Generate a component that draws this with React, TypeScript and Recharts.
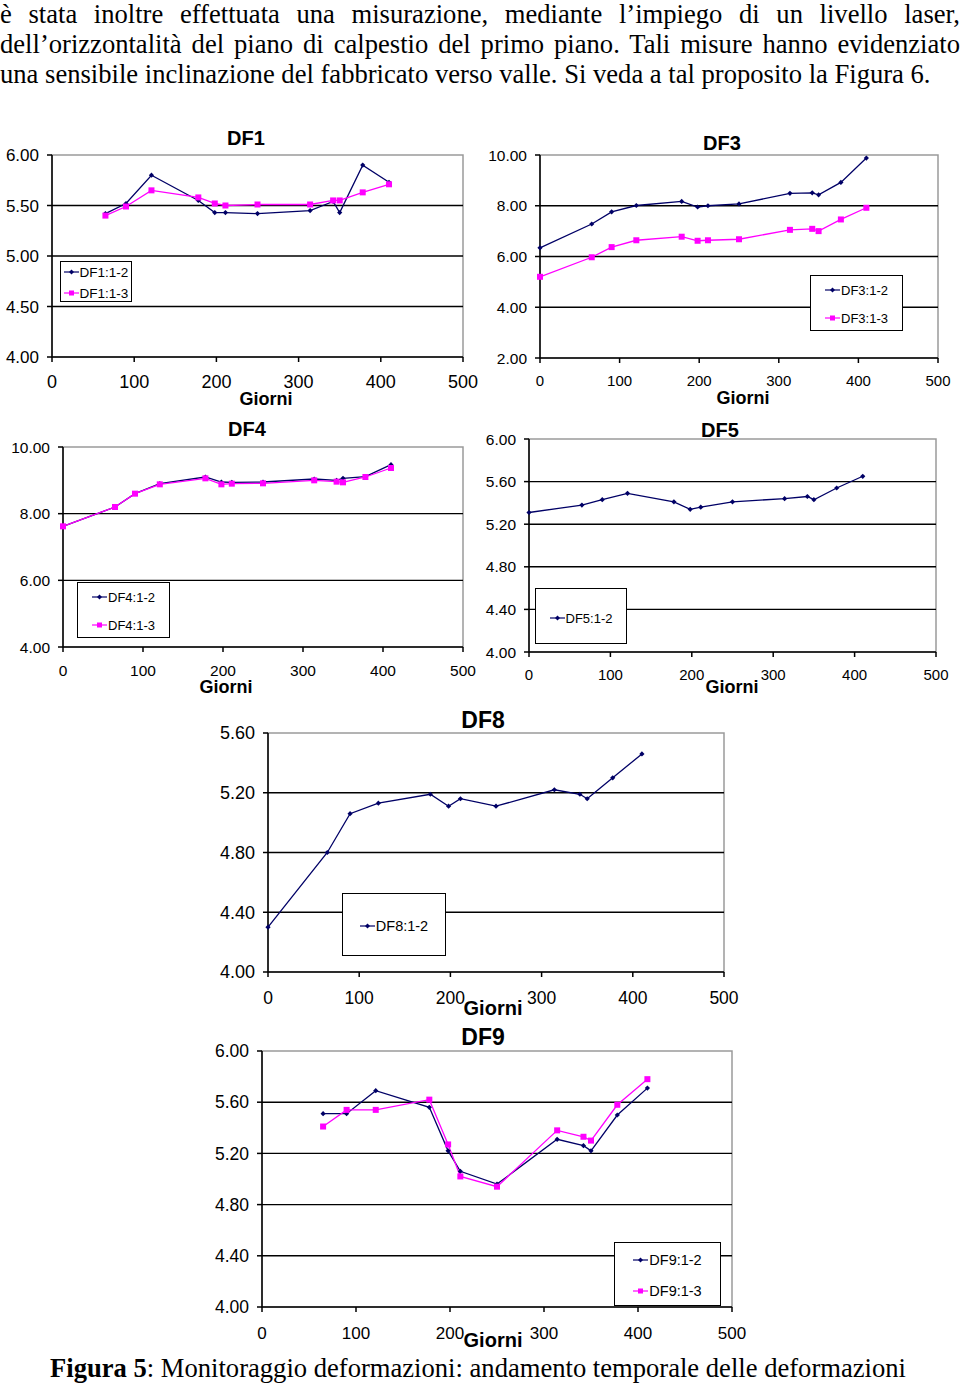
import React from "react";
import {
  LineChart,
  Line,
  XAxis,
  YAxis,
  ReferenceArea,
  ReferenceLine,
} from "recharts";

// Giorni di misura (comuni a tutte le fessure)
const DAYS = [0, 65, 90, 121, 178, 198, 211, 250, 314, 342, 350, 378, 410];
const X_TICKS = [0, 100, 200, 300, 400, 500];

const DF1_12 = [null, 5.42, 5.52, 5.8, 5.55, 5.43, 5.43, 5.42, 5.45, 5.54, 5.43, 5.9, 5.73];
const DF1_13 = [null, 5.4, 5.49, 5.65, 5.58, 5.52, 5.5, 5.51, 5.51, 5.55, 5.55, 5.63, 5.71];

const DF3_12 = [6.34, 7.28, 7.76, 8.01, 8.17, 7.95, 8.0, 8.07, 8.49, 8.51, 8.43, 8.92, 9.88];
const DF3_13 = [5.2, 5.97, 6.37, 6.64, 6.78, 6.62, 6.64, 6.68, 7.05, 7.09, 7.0, 7.46, 7.92];

const DF4_12 = [7.62, 8.2, 8.6, 8.9, 9.1, 8.95, 8.94, 8.95, 9.04, 9.0, 9.06, 9.11, 9.47];
const DF4_13 = [7.62, 8.2, 8.6, 8.88, 9.06, 8.88, 8.9, 8.91, 9.0, 8.96, 8.94, 9.1, 9.37];

const DF5_12 = [5.31, 5.38, 5.43, 5.49, 5.41, 5.34, 5.36, 5.41, 5.44, 5.46, 5.43, 5.54, 5.65];

const DF8_12 = [4.3, 4.8, 5.06, 5.13, 5.19, 5.11, 5.16, 5.11, 5.22, 5.19, 5.16, 5.3, 5.46];

const DF9_12 = [null, 5.51, 5.51, 5.69, 5.56, 5.22, 5.06, 4.96, 5.31, 5.26, 5.22, 5.5, 5.71];
const DF9_13 = [null, 5.41, 5.54, 5.54, 5.62, 5.27, 5.02, 4.94, 5.38, 5.33, 5.3, 5.58, 5.78];

const BLUE = "#000066";
const PINK = "#ff00ff";
const FONT = '"Liberation Sans", Arial, sans-serif';
const SERIF = '"Liberation Serif", "Times New Roman", serif';

const YW = 70; // larghezza asse Y
const TOP = 12;
const RIGHT = 30;
const XH = 44;

type Serie = { name: string; values: (number | null)[]; kind: "blue" | "pink" };

const diamond = (props: any) => {
  const { cx, cy, index } = props;
  if (cx == null || cy == null || isNaN(cy)) return <g key={index} />;
  const r = 2.6;
  return (
    <path
      key={index}
      d={`M${cx},${cy - r}L${cx + r},${cy}L${cx},${cy + r}L${cx - r},${cy}Z`}
      fill={BLUE}
    />
  );
};

const square = (props: any) => {
  const { cx, cy, index } = props;
  if (cx == null || cy == null || isNaN(cy)) return <g key={index} />;
  return <rect key={index} x={cx - 3} y={cy - 3} width={6} height={6} fill={PINK} />;
};

const PANELS = [
  {
    title: "DF1", x: 52, y: 155, w: 411, h: 202, yTicks: [4, 4.5, 5, 5.5, 6],
    series: [
      { name: "DF1:1-2", values: DF1_12, kind: "blue" },
      { name: "DF1:1-3", values: DF1_13, kind: "pink" },
    ] as Serie[],
    yFont: 17, xFont: 18, xMargin: 13.5, titleFont: 20, titleAt: [246, 138],
    giorniFont: 18, giorniAt: [266, 399],
    legend: { x: 60, y: 261, w: 72, h: 41, rows: [271, 292], font: 13.5 },
  },
  {
    title: "DF3", x: 540, y: 155, w: 398, h: 203, yTicks: [2, 4, 6, 8, 10],
    series: [
      { name: "DF3:1-2", values: DF3_12, kind: "blue" },
      { name: "DF3:1-3", values: DF3_13, kind: "pink" },
    ] as Serie[],
    yFont: 15.5, xFont: 15, xMargin: 12.7, titleFont: 20, titleAt: [722, 143],
    giorniFont: 18, giorniAt: [743, 398],
    legend: { x: 810, y: 275, w: 93, h: 56, rows: [289, 317], font: 13 },
  },
  {
    title: "DF4", x: 63, y: 447, w: 400, h: 200, yTicks: [4, 6, 8, 10],
    series: [
      { name: "DF4:1-2", values: DF4_12, kind: "blue" },
      { name: "DF4:1-3", values: DF4_13, kind: "pink" },
    ] as Serie[],
    yFont: 15.5, xFont: 15.5, xMargin: 12.5, titleFont: 20, titleAt: [247, 429],
    giorniFont: 18, giorniAt: [226, 687],
    legend: { x: 77, y: 582, w: 93, h: 56, rows: [596, 624], font: 13 },
  },
  {
    title: "DF5", x: 529, y: 439, w: 407, h: 213, yTicks: [4, 4.4, 4.8, 5.2, 5.6, 6],
    series: [{ name: "DF5:1-2", values: DF5_12, kind: "blue" }] as Serie[],
    yFont: 15.5, xFont: 15, xMargin: 12.7, titleFont: 20, titleAt: [720, 430],
    giorniFont: 18, giorniAt: [732, 687],
    legend: { x: 535, y: 588, w: 92, h: 56, rows: [617], font: 13 },
  },
  {
    title: "DF8", x: 268, y: 733, w: 456, h: 239, yTicks: [4, 4.4, 4.8, 5.2, 5.6],
    series: [{ name: "DF8:1-2", values: DF8_12, kind: "blue" }] as Serie[],
    yFont: 18, xFont: 17.5, xMargin: 14.9, titleFont: 23, titleAt: [483, 720],
    giorniFont: 20, giorniAt: [493, 1008],
    legend: { x: 342, y: 893, w: 104, h: 63, rows: [925], font: 14.5 },
  },
  {
    title: "DF9", x: 262, y: 1051, w: 470, h: 256, yTicks: [4, 4.4, 4.8, 5.2, 5.6, 6],
    series: [
      { name: "DF9:1-2", values: DF9_12, kind: "blue" },
      { name: "DF9:1-3", values: DF9_13, kind: "pink" },
    ] as Serie[],
    yFont: 17.5, xFont: 17, xMargin: 15, titleFont: 23, titleAt: [483, 1037],
    giorniFont: 20, giorniAt: [493, 1340],
    legend: { x: 614, y: 1242, w: 107, h: 64, rows: [1259, 1290], font: 14.5 },
  },
];

function Centered({ at, size, children }: { at: number[]; size: number; children: React.ReactNode }) {
  return (
    <div
      style={{
        position: "absolute",
        left: at[0],
        top: at[1],
        transform: "translate(-50%, -50%)",
        fontFamily: FONT,
        fontWeight: "bold",
        fontSize: size,
        lineHeight: 1,
        whiteSpace: "nowrap",
      }}
    >
      {children}
    </div>
  );
}

function LegendBox({ legend, series }: { legend: any; series: Serie[] }) {
  return (
    <div
      style={{
        position: "absolute",
        left: legend.x,
        top: legend.y,
        width: legend.w,
        height: legend.h,
        boxSizing: "border-box",
        border: "1.5px solid #000",
        background: "#fff",
        fontFamily: FONT,
        fontSize: legend.font,
      }}
    >
      {series.map((s, i) => (
        <div
          key={s.name}
          style={{
            position: "absolute",
            left: 0,
            right: 0,
            top: legend.rows[i] - legend.y - 8,
            height: 16,
            display: "flex",
            alignItems: "center",
            justifyContent: "center",
          }}
        >
          <svg width={15} height={10} style={{ marginRight: 1 }}>
            <line x1={0} y1={5} x2={15} y2={5} stroke={s.kind === "blue" ? BLUE : PINK} strokeWidth={1.2} />
            {s.kind === "blue" ? (
              <path d="M7.5,2.5L10,5L7.5,7.5L5,5Z" fill={BLUE} />
            ) : (
              <rect x={5} y={2.5} width={5} height={5} fill={PINK} />
            )}
          </svg>
          <span>{s.name}</span>
        </div>
      ))}
    </div>
  );
}

function Panel({ p }: { p: (typeof PANELS)[number] }) {
  const rows = DAYS.map((d, i) => {
    const r: Record<string, number | null> = { day: d };
    p.series.forEach((s) => {
      r[s.name] = s.values[i];
    });
    return r;
  });
  const yMin = p.yTicks[0];
  const yMax = p.yTicks[p.yTicks.length - 1];
  return (
    <>
      <div style={{ position: "absolute", left: p.x - YW, top: p.y - TOP }}>
        <LineChart
          width={YW + p.w + RIGHT}
          height={TOP + p.h + XH}
          data={rows}
          margin={{ top: TOP, right: RIGHT, bottom: 0, left: 0 }}
        >
          <ReferenceArea x1={0} x2={500} y1={yMin} y2={yMax} fill="none" stroke="#9a9a9a" strokeWidth={1.5} />
          {p.yTicks.slice(1, -1).map((v) => (
            <ReferenceLine key={v} y={v} stroke="#000" strokeWidth={1.4} />
          ))}
          <XAxis
            type="number"
            dataKey="day"
            domain={[0, 500]}
            ticks={X_TICKS}
            interval={0}
            height={XH}
            axisLine={{ stroke: "#000", strokeWidth: 1.5 }}
            tickLine={{ stroke: "#000", strokeWidth: 1.5 }}
            tickSize={5}
            tickMargin={p.xMargin}
            tick={{ fill: "#000", fontSize: p.xFont, fontFamily: FONT }}
          />
          <YAxis
            type="number"
            domain={[yMin, yMax]}
            ticks={p.yTicks}
            interval={0}
            width={YW}
            axisLine={{ stroke: "#000", strokeWidth: 1.5 }}
            tickLine={{ stroke: "#000", strokeWidth: 1.5 }}
            tickSize={5}
            tickMargin={8}
            tickFormatter={(v: number) => v.toFixed(2)}
            tick={{ fill: "#000", fontSize: p.yFont, fontFamily: FONT }}
          />
          {p.series.map((s) => (
            <Line
              key={s.name}
              type="linear"
              dataKey={s.name}
              stroke={s.kind === "blue" ? BLUE : PINK}
              strokeWidth={1.3}
              dot={s.kind === "blue" ? diamond : square}
              activeDot={false}
              isAnimationActive={false}
            />
          ))}
        </LineChart>
      </div>
      <Centered at={p.titleAt} size={p.titleFont}>{p.title}</Centered>
      <Centered at={p.giorniAt} size={p.giorniFont}>Giorni</Centered>
      <LegendBox legend={p.legend} series={p.series} />
    </>
  );
}

const TEXT_LINES = [
  "è stata inoltre effettuata una misurazione, mediante l’impiego di un livello laser,",
  "dell’orizzontalità del piano di calpestio del primo piano. Tali misure hanno evidenziato",
];
const TEXT_LAST = "una sensibile inclinazione del fabbricato verso valle. Si veda a tal proposito la Figura 6.";

const TEXT_SIZE = 26.6;

export default function App() {
  return (
    <div
      style={{
        position: "absolute",
        left: 0,
        top: 0,
        width: 960,
        height: 1384,
        background: "#fff",
        overflow: "hidden",
        color: "#000",
      }}
    >
      {TEXT_LINES.map((t, i) => (
        <div
          key={i}
          style={{
            position: "absolute",
            left: 0,
            width: 960,
            top: -1 + i * 30,
            fontFamily: SERIF,
            fontSize: TEXT_SIZE,
            lineHeight: "30px",
            textAlign: "justify",
            textAlignLast: "justify",
            whiteSpace: "nowrap",
          }}
        >
          {t}
        </div>
      ))}
      <div
        style={{
          position: "absolute",
          left: 0,
          top: -1 + 60,
          fontFamily: SERIF,
          fontSize: TEXT_SIZE,
          lineHeight: "30px",
          whiteSpace: "nowrap",
        }}
      >
        {TEXT_LAST}
      </div>

      {PANELS.map((p) => (
        <Panel key={p.title} p={p} />
      ))}

      <div
        style={{
          position: "absolute",
          left: 50,
          top: 1353,
          fontFamily: SERIF,
          fontSize: TEXT_SIZE,
          lineHeight: "30px",
          whiteSpace: "nowrap",
        }}
      >
        <b>Figura 5</b>: Monitoraggio deformazioni: andamento temporale delle deformazioni
      </div>
    </div>
  );
}
